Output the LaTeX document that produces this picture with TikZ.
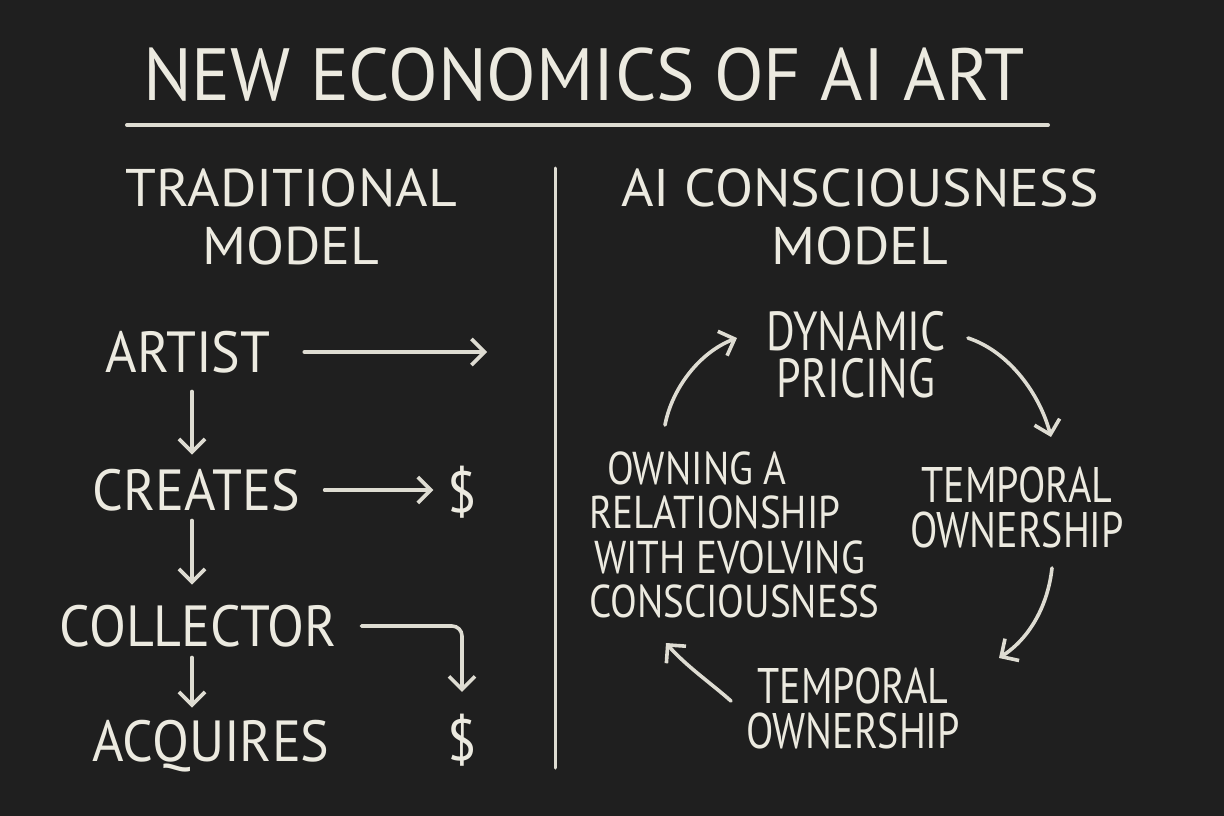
\documentclass[tikz,border=0pt]{standalone}
\usepackage{fontspec}
\setmainfont{PT Sans}[FakeStretch=0.93]
\newfontfamily\titlefont{PT Sans}[FakeStretch=0.98]
\newfontfamily\headfont{PT Sans}[FakeStretch=1.05]
\newfontfamily\cyclefont{PT Sans}[FakeStretch=0.8]
\newfontfamily\owningfont{PT Sans}[FakeStretch=0.85]
\usetikzlibrary{arrows.meta,positioning,calc}
\definecolor{Board}{RGB}{31,31,31}
\definecolor{Chalk}{RGB}{236,234,224}
\definecolor{ChalkLine}{RGB}{222,220,210}
\tikzset{
  chalk/.style={text=Chalk,inner sep=0pt,outer sep=0pt,align=center},
  title/.style={chalk,font=\titlefont\fontsize{74}{80}\selectfont,text height=52pt,text depth=0pt},
  header/.style={chalk,font=\headfont\fontsize{53}{58}\selectfont},
  flow/.style={chalk,font=\fontsize{58}{60}\selectfont,text height=41pt,text depth=0pt},
  money/.style={chalk,font=\fontsize{58}{60}\selectfont},
  cycle/.style={chalk,font=\cyclefont\fontsize{50}{45}\selectfont},
  owning/.style={chalk,align=left,font=\owningfont\fontsize{46}{44.5}\selectfont},
  arrow/.style={-{Straight Barb[length=13pt,width=26pt]},line width=3.6pt,ChalkLine,
    line cap=round,line join=round},
  rule/.style={line width=4pt,ChalkLine,line cap=round}
}

\begin{document}
\begin{tikzpicture}[x=1pt,y=-1pt]
  \fill[Board] (0,0) rectangle (1224,816);
  \useasboundingbox (0,0) rectangle (1224,816);

  \node[title] (title) at (584,74) {NEW ECONOMICS OF AI ART};
  \draw[rule] (127,125) -- (1048,125);
  \draw[rule,line width=3pt] (555,168) -- (555,768);

  \node[header] (trad) at (291,217) {TRADITIONAL\\MODEL};
  \node[header] (aimodel) at (860,217) {AI CONSCIOUSNESS\\MODEL};

  \node[flow] (artist) at (188,352) {ARTIST};
  \node[flow] (creates) at (196,490) {CREATES};
  \node[flow] (collector) at (198,626) {COLLECTOR};
  \node[flow] (acquires) at (211,741) {ACQUIRES};
  \node[money] (dollar1) at (462,492) {\$};
  \node[money] (dollar2) at (462,740) {\$};
  \coordinate (spine) at (192,0);
  \coordinate (artistend) at (487,350);

  \draw[arrow,shorten <=34pt] (artist.east) -- (artist.east -| artistend);
  \draw[arrow,shorten <=19pt,shorten >=15pt] (artist.south -| spine) -- (creates.north -| spine);
  \draw[arrow,shorten <=25pt,shorten >=14pt] (creates.east) -- (creates.east -| dollar1.west);
  \draw[arrow,shorten <=10pt,shorten >=21pt] (creates.south -| spine) -- (collector.north -| spine);
  \draw[arrow,rounded corners=10pt,shorten <=25pt,shorten >=22pt] (collector.east) -| (dollar2.north);
  \draw[arrow,shorten <=11pt,shorten >=13pt] (collector.south -| spine) -- (acquires.north -| spine);

  \node[cycle,font=\cyclefont\fontsize{55}{47}\selectfont] (pricing) at (856,355) {DYNAMIC\\PRICING};
  \node[cycle] (temporal) at (1017,507) {TEMPORAL\\OWNERSHIP};
  \node[cycle] (ownership) at (853,708) {TEMPORAL\\OWNERSHIP};
  \node[owning,anchor=west] (relation) at (589,535)
    {\hspace*{18pt}OWNING A\\RELATIONSHIP\\\hspace*{5pt}WITH EVOLVING\\CONSCIOUSNESS};
  \coordinate (c1a) at (665,425);
  \coordinate (c1b) at (737,338);
  \coordinate (c2a) at (968,338);
  \coordinate (c2b) at (1051,437);
  \coordinate (c3a) at (1052,568);
  \coordinate (c3b) at (999,658);
  \coordinate (c4a) at (731,701);
  \coordinate (c4b) at (666,643);
  \draw[arrow] (c1a) .. controls (672,388) and (700,352) .. (c1b);
  \draw[arrow] (c2a) .. controls (1010,352) and (1040,395) .. (c2b);
  \draw[arrow] (c3a) .. controls (1048,605) and (1030,638) .. (c3b);
  \draw[arrow] (c4a) .. controls (712,684) and (686,666) .. (c4b);
\end{tikzpicture}
\end{document}
